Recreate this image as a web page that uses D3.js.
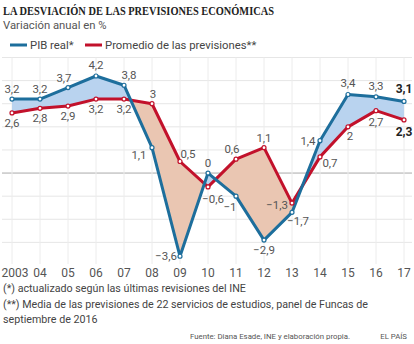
<!DOCTYPE html>
<html>
<head>
<meta charset="utf-8">
<script src="https://d3js.org/d3.v7.min.js"></script>
<style>
  body { margin: 0; background: #fff; font-family: 'Roboto', sans-serif; }
</style>
</head>
<body>
<div id="chart"></div>
<script>
// data
const years = d3.range(2003, 2018);
const yearLabels = ["2003","04","05","06","07","08","09","10","11","12","13","14","15","16","17"];
const pibReal = [3.2, 3.2, 3.7, 4.2, 3.8, 1.1, -3.6, 0, -1, -2.9, -1.7, 1.4, 3.4, 3.3, 3.1];
const previsiones = [2.6, 2.8, 2.9, 3.2, 3.2, 3, 0.5, -0.6, 0.6, 1.1, -1.3, 0.7, 2, 2.7, 2.3];
const gridValues = [-3, -2, -1, 0, 1, 2, 3, 4, 5];

// label placement [dx, dy] per point
const pibLabelPos = [[0,-6],[0,-6],[-4,-6],[0,-7],[5,-6],[-13,11],[-14,4],[0,-6],[-6,15],[0,14],[6,13],[-12,4],[0,-7],[0,-7],[0,-8]];
const prevLabelPos = [[0,14],[0,14],[0,14],[0,14],[0,14],[1,-6],[8,-4],[5,16],[-4,-6],[0,-6],[-15,6],[10,10],[2,13],[0,15],[0,16]];

const W = 414, H = 344;
const svg = d3.select("#chart").append("svg").attr("width", W).attr("height", H);

const x = d3.scaleLinear().domain([2003, 2017]).range([12, 404]);
const y = d3.scaleLinear().domain([-4, 5]).range([265.5, 57.5]);

const blue = "#1d6e9c", red = "#c2112b";
const fmt = v => (v < 0 ? "\u2212" : "") + String(Math.abs(v)).replace(".", ",");

// title
svg.append("text").attr("x", 3).attr("y", 15)
  .attr("font-family", "'Liberation Serif', serif").attr("font-weight", "bold")
  .attr("font-size", 13.4).attr("fill", "#222")
  .attr("textLength", 271).attr("lengthAdjust", "spacingAndGlyphs")
  .text("LA DESVIACIÓN DE LAS PREVISIONES ECONÓMICAS");
svg.append("text").attr("x", 3).attr("y", 29)
  .attr("font-size", 11.3).attr("fill", "#555").text("Variación anual en %");

// legend
const legend = [["PIB real*", blue, 10], ["Promedio de las previsiones**", red, 85]];
legend.forEach(([t, c, lx]) => {
  svg.append("line").attr("x1", lx).attr("x2", lx + 17).attr("y1", 45).attr("y2", 45)
    .attr("stroke", c).attr("stroke-width", 3);
  svg.append("text").attr("x", lx + 20).attr("y", 49).attr("font-size", 11.3).attr("fill", "#444").text(t);
});

// grid
const grid = svg.append("g");
grid.selectAll("line.h").data(gridValues).join("line")
  .attr("x1", 2).attr("x2", 412)
  .attr("y1", d => y(d)).attr("y2", d => y(d))
  .attr("stroke", d => d === 0 ? "#aaa" : "#e6e6e6").attr("stroke-width", 1);
grid.selectAll("line.v").data(years).join("line")
  .attr("x1", d => x(d)).attr("x2", d => x(d))
  .attr("y1", y(5)).attr("y2", 264)
  .attr("stroke", "#ececec").attr("stroke-width", 1);
grid.lower();

// difference areas
const pts = years.map((yr, i) => ({ yr, a: pibReal[i], b: previsiones[i] }));
const defs = svg.append("defs");
defs.append("clipPath").attr("id", "clipAbove").append("path")
  .attr("d", d3.area().x(d => x(d.yr)).y0(0).y1(d => y(d.b))(pts));
defs.append("clipPath").attr("id", "clipBelow").append("path")
  .attr("d", d3.area().x(d => x(d.yr)).y0(H).y1(d => y(d.b))(pts));
const between = d3.area().x(d => x(d.yr)).y0(d => y(d.b)).y1(d => y(d.a));
svg.append("path").attr("d", between(pts)).attr("fill", "#b9d3ef").attr("clip-path", "url(#clipAbove)");
svg.append("path").attr("d", between(pts)).attr("fill", "#eac6b2").attr("clip-path", "url(#clipBelow)");

// lines
const series = [[previsiones, red, prevLabelPos], [pibReal, blue, pibLabelPos]];
series.forEach(([vals, c]) => {
  svg.append("path").datum(vals)
    .attr("d", d3.line().x((d, i) => x(years[i])).y(d => y(d)))
    .attr("fill", "none").attr("stroke", c).attr("stroke-width", 3).attr("stroke-linejoin", "round");
});
series.forEach(([vals, c]) => {
  svg.append("g").selectAll("circle").data(vals).join("circle")
    .attr("cx", (d, i) => x(years[i])).attr("cy", d => y(d)).attr("r", 2)
    .attr("fill", "#fff").attr("stroke", c).attr("stroke-width", 1.2);
});

// value labels
series.forEach(([vals, c, pos]) => {
  svg.append("g").selectAll("text").data(vals).join("text")
    .attr("x", (d, i) => x(years[i]) + pos[i][0])
    .attr("y", (d, i) => y(d) + pos[i][1])
    .attr("text-anchor", "middle")
    .attr("font-size", (d, i) => i === vals.length - 1 ? 12 : 11.5)
    .attr("font-weight", (d, i) => i === vals.length - 1 ? "bold" : "normal")
    .attr("fill", (d, i) => i === vals.length - 1 ? "#222" : "#555")
    .text(d => fmt(d));
});

// x axis labels
svg.append("g").selectAll("text").data(years).join("text")
  .attr("x", d => x(d) + (d === 2003 ? 3 : 0)).attr("y", 277)
  .attr("text-anchor", "middle").attr("font-size", 12).attr("fill", "#555")
  .text((d, i) => yearLabels[i]);

// notes
const notes = ["(*) actualizado según las últimas revisiones del INE",
  "(**) Media de las previsiones de 22 servicios de estudios, panel de Funcas de",
  "septiembre de 2016"];
notes.forEach((t, i) => svg.append("text").attr("x", 3).attr("y", 292 + i * 15.5)
  .attr("font-size", 10.7).attr("fill", "#444").text(t));
svg.append("text").attr("x", 350).attr("y", 339).attr("text-anchor", "end")
  .attr("font-size", 7.8).attr("fill", "#555").text("Fuente: Diana Esade, INE y elaboración propia.");
svg.append("text").attr("x", 407).attr("y", 339).attr("text-anchor", "end")
  .attr("font-size", 7.8).attr("fill", "#555").text("EL PAÍS");
</script>
</body>
</html>
